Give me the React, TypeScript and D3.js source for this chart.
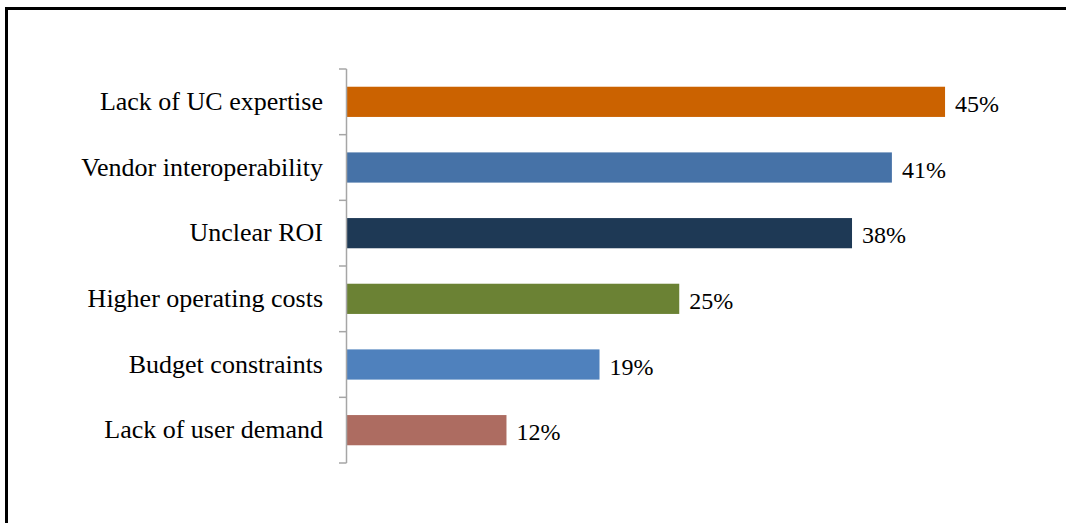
import * as d3 from 'd3';
import { useMemo } from 'react';

const categories = [
    'Lack of UC expertise',
    'Vendor interoperability',
    'Unclear ROI',
    'Higher operating costs',
    'Budget constraints',
    'Lack of user demand',
];
const values = [45, 41, 38, 25, 19, 12];
const colors = ['#CB6200', '#4672A7', '#1E3955', '#6B8234', '#4F81BD', '#AD6C61'];

const WIDTH = 1066;
const HEIGHT = 523;
const FONT = '"Liberation Serif", "DejaVu Serif", serif';

export default function App() {
    const y = useMemo(
        () => d3.scaleBand<string>().domain(categories).range([69, 463]).paddingInner(0.54).paddingOuter(0.27),
        []
    );
    const x = useMemo(() => d3.scaleLinear().domain([0, 50]).range([347, 1011.5]), []);

    // category boundaries for the little ticks on the axis
    const boundaries = d3.range(categories.length + 1).map((i) => 69 + i * y.step());

    return (
        <svg
            width={WIDTH}
            height={HEIGHT}
            viewBox={`0 0 ${WIDTH} ${HEIGHT}`}
            style={{ position: 'absolute', left: 0, top: 0, background: '#fff' }}
        >
            <line x1={6.5} y1={8.5} x2={WIDTH} y2={8.5} stroke="#000" strokeWidth={3} />
            <line x1={6.5} y1={7} x2={6.5} y2={HEIGHT} stroke="#000" strokeWidth={3} />

            {categories.map((c, i) => (
                <rect
                    key={c}
                    x={x(0)}
                    y={y(c)}
                    width={x(values[i]) - x(0)}
                    height={y.bandwidth()}
                    fill={colors[i]}
                />
            ))}

            <line x1={346.5} x2={346.5} y1={69} y2={463} stroke="#a6a6a6" strokeWidth={1.5} />
            {boundaries.map((b) => (
                <line key={b} x1={339} x2={346.5} y1={b} y2={b} stroke="#a6a6a6" strokeWidth={1.5} />
            ))}

            {categories.map((c) => (
                <text
                    key={c}
                    x={323}
                    y={y(c)! + y.bandwidth() / 2}
                    dy="0.32em"
                    textAnchor="end"
                    fontFamily={FONT}
                    fontSize={26}
                    fill="#000"
                >
                    {c}
                </text>
            ))}

            {categories.map((c, i) => (
                <text
                    key={c}
                    x={x(values[i]) + 10}
                    y={y(c)! + y.bandwidth() / 2}
                    dy="0.42em"
                    fontFamily={FONT}
                    fontSize={24}
                    fill="#000"
                >
                    {values[i]}%
                </text>
            ))}
        </svg>
    );
}
